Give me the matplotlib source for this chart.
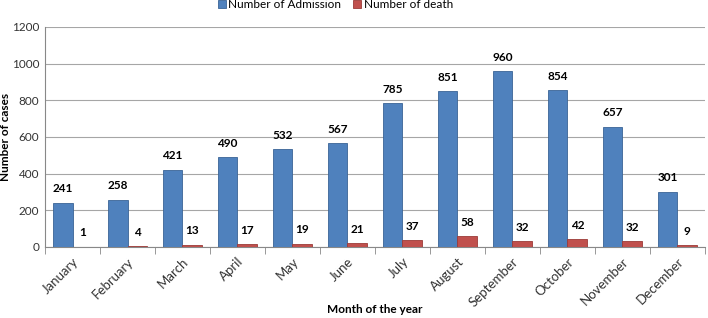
import matplotlib.pyplot as plt
import numpy as np

plt.rcParams['font.family'] = ['Lato', 'DejaVu Sans']

months = ["January", "February", "March", "April", "May", "June", "July",
          "August", "September", "October", "November", "December"]
admissions = [241, 258, 421, 490, 532, 567, 785, 851, 960, 854, 657, 301]
deaths = [1, 4, 13, 17, 19, 21, 37, 58, 32, 42, 32, 9]

blue = "#4F81BD"
red = "#C0504D"

fig = plt.figure(figsize=(7.08, 3.18), dpi=100)
ax = fig.add_axes([0.0636, 0.2233, 0.932, 0.692])

x = np.arange(len(months))
w = 0.36
ax.bar(x - w / 2, admissions, w, color=blue, edgecolor="#3A6496", linewidth=0.6,
       label="Number of Admission", zorder=3)
ax.bar(x + w / 2, deaths, w, color=red, edgecolor="#9C3B38", linewidth=0.6,
       label="Number of death", zorder=3)

for i in range(len(months)):
    ax.annotate(str(admissions[i]), (x[i] - w / 2, admissions[i]), xytext=(0, 6),
                textcoords="offset points", ha="center", va="bottom",
                fontsize=8.5, fontweight="bold")
    ax.annotate(str(deaths[i]), (x[i] + w / 2, deaths[i]), xytext=(0, 6),
                textcoords="offset points", ha="center", va="bottom",
                fontsize=8.5, fontweight="bold")

ax.set_xlim(-0.5, len(months) - 0.5)
ax.set_ylim(0, 1200)
ax.set_yticks(range(0, 1201, 200))
ax.yaxis.grid(True, color="#A6A6A6", linewidth=0.8, zorder=0)
ax.tick_params(axis="y", length=0, labelsize=8.5, colors="#333333", pad=4)

ax.set_xticks(x)
ax.set_xticklabels(months, rotation=45, ha="right", rotation_mode="anchor", fontsize=9.5)
ax.tick_params(axis="x", length=0, pad=6, colors="#333333")
ax.set_xticks(np.arange(-0.5, len(months) + 0.5, 1), minor=True)
ax.tick_params(axis="x", which="minor", length=5, color="#888888")

for s in ["top", "right"]:
    ax.spines[s].set_visible(False)
ax.spines["left"].set_color("#888888")
ax.spines["bottom"].set_color("#888888")

ax.set_ylabel("Number of cases", fontsize=8.5, fontweight="bold")
ax.yaxis.set_label_coords(-0.052, 0.5)
ax.set_xlabel("Month of the year", fontsize=8.5, fontweight="bold")
ax.xaxis.set_label_coords(0.5, -0.26)

ax.legend(loc="center", bbox_to_anchor=(0.44, 1.1), ncol=2, frameon=False,
          fontsize=8.5, handlelength=0.7, handleheight=0.7, columnspacing=1.0,
          borderaxespad=0.0, handletextpad=0.2)

fig.savefig("out.png", dpi=100)
